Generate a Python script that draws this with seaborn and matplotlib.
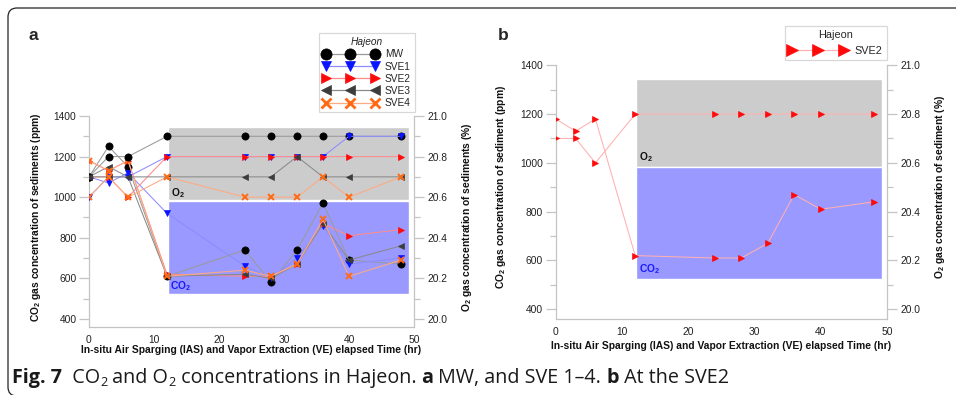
import matplotlib
matplotlib.use("Agg")
import matplotlib.pyplot as plt
import matplotlib.transforms as mtransforms
from matplotlib.patches import Rectangle, PathPatch
from matplotlib.path import Path
from matplotlib.lines import Line2D
from matplotlib.ticker import MultipleLocator
from matplotlib import font_manager
import seaborn as sns

# ---------------- data ----------------
time_hr = [0, 3, 6, 12, 24, 28, 32, 36, 40, 48]

mw_co2 = [1100, 1250, 1150, 610, 740, 580, 740, 970, 690, 670]
mw_o2 = [20.7, 20.8, 20.8, 20.9, 20.9, 20.9, 20.9, 20.9, 20.9, 20.9]

sve1_co2 = [1100, 1070, 1120, 920, 660, 600, 700, 860, 670, 700]
sve1_o2 = [20.6, 20.7, 20.7, 20.8, 20.8, 20.8, 20.8, 20.8, 20.9, 20.9]

sve2_co2 = [1180, 1130, 1180, 620, 610, 610, 670, 870, 810, 840]
sve2_o2 = [20.7, 20.7, 20.6, 20.8, 20.8, 20.8, 20.8, 20.8, 20.8, 20.8]

sve3_co2 = [1100, 1150, 1100, 610, 620, 600, 670, 870, 690, 760]
sve3_o2 = [20.7, 20.7, 20.7, 20.7, 20.7, 20.7, 20.8, 20.7, 20.7, 20.7]

sve4_co2 = [1180, 1130, 1180, 610, 640, 610, 670, 890, 610, 690]
sve4_o2 = [20.6, 20.7, 20.6, 20.7, 20.6, 20.6, 20.6, 20.7, 20.6, 20.7]

series_names = ["MW", "SVE1", "SVE2", "SVE3", "SVE4"]
x_ticks = [0, 10, 20, 30, 40, 50]
co2_ticks = [400, 600, 800, 1000, 1200, 1400]
o2_ticks = [20.0, 20.2, 20.4, 20.6, 20.8, 21.0]

# ---------------- style ----------------
sns.set_theme(style="white")
names = {f.name for f in font_manager.fontManager.ttflist}
base = "Liberation Sans" if "Liberation Sans" in names else "DejaVu Sans"
plt.rcParams["font.family"] = [base, "DejaVu Sans"]
plt.rcParams["mathtext.fontset"] = "custom"
plt.rcParams["mathtext.rm"] = base
plt.rcParams["mathtext.bf"] = base + ":bold"
plt.rcParams["mathtext.it"] = base + ":italic"
cap_family = "Open Sans" if "Open Sans" in names else base

W, H = 957, 395
fig = plt.figure(figsize=(W / 100, H / 100), dpi=100)
fig.patch.set_facecolor("white")

styles = {
    "MW":   dict(marker="o", mc="#000000", lc="#9a9a9a", ms=5.2, mew=0.5),
    "SVE1": dict(marker="v", mc="#0a14ff", lc="#8c8cff", ms=5.0, mew=0.5),
    "SVE2": dict(marker=">", mc="#ff0a0a", lc="#ff8c8c", ms=5.0, mew=0.5),
    "SVE3": dict(marker="<", mc="#3c3c3c", lc="#8a8a8a", ms=5.0, mew=0.5),
    "SVE4": dict(marker="x", mc="#ff6a14", lc="#ffaa80", ms=4.6, mew=1.4),
}
data_a = {
    "MW": (mw_co2, mw_o2), "SVE1": (sve1_co2, sve1_o2), "SVE2": (sve2_co2, sve2_o2),
    "SVE3": (sve3_co2, sve3_o2), "SVE4": (sve4_co2, sve4_o2),
}

SPINE = "#c4c4c4"


def px_axes(x0, x1, ytop, ybot):
    return fig.add_axes([x0 / W, 1 - ybot / H, (x1 - x0) / W, (ybot - ytop) / H])


def style_axes(ax, ax2, ylab_left, ylab_right, lab_x_left, lab_x_right, xlab_y):
    ax.set_xlim(0, 50)
    ax.set_ylim(360, 1400)
    ax2.set_ylim(19.96, 21.0)
    ax.set_xticks(x_ticks)
    ax.xaxis.set_minor_locator(MultipleLocator(5))
    ax.set_yticks(co2_ticks)
    ax.yaxis.set_minor_locator(MultipleLocator(100))
    ax2.set_yticks(o2_ticks)
    ax2.yaxis.set_minor_locator(MultipleLocator(0.1))
    ax2.set_yticklabels([f"{v:.1f}" for v in o2_ticks])
    for a in (ax, ax2):
        for s in a.spines.values():
            s.set_visible(False)
        a.set_facecolor("none")
    ax.spines["left"].set_visible(True)
    ax.spines["bottom"].set_visible(True)
    ax2.spines["right"].set_visible(True)
    for s in (ax.spines["left"], ax.spines["bottom"], ax2.spines["right"]):
        s.set_color(SPINE)
        s.set_linewidth(0.9)
    ax.tick_params(axis="y", which="major", direction="out", length=7, width=0.9,
                   color=SPINE, labelsize=7.4, labelcolor="#222222", pad=2)
    ax.tick_params(axis="y", which="minor", direction="out", length=4.5, width=0.9, color=SPINE)
    ax.tick_params(axis="x", which="both", direction="out", length=3.5, width=0.9,
                   color=SPINE, labelsize=7.4, labelcolor="#222222", pad=2)
    ax2.tick_params(axis="y", which="major", direction="out", length=7, width=0.9,
                    color=SPINE, labelsize=7.4, labelcolor="#222222", pad=3)
    ax2.tick_params(axis="y", which="minor", direction="out", length=4.5, width=0.9, color=SPINE)
    ax.set_ylabel(ylab_left, fontsize=7.4, fontweight="bold", color="#111111")
    ax2.set_ylabel(ylab_right, fontsize=7.4, fontweight="bold", color="#111111")
    ax.yaxis.set_label_coords(lab_x_left, 0.52)
    ax2.yaxis.set_label_coords(lab_x_right, 0.52)
    ax.set_xlabel("In-situ Air Sparging (IAS) and Vapor Extraction (VE) elapsed Time (hr)",
                  fontsize=7.4, fontweight="bold", color="#111111")
    ax.xaxis.set_label_coords(0.5, xlab_y)
    # shaded zones
    ax.add_patch(Rectangle((12.1, 985), 37.2, 360, facecolor="#cccccc", edgecolor="white",
                           lw=1.0, zorder=1))
    ax.add_patch(Rectangle((12.1, 522), 37.2, 460, facecolor="#9999ff", edgecolor="white",
                           lw=1.0, zorder=1))
    ax.text(12.6, 1022, r"O$_\mathbf{2}$", fontsize=7.4, fontweight="bold", color="#111111",
            va="center", ha="left", zorder=2)
    ax.text(12.5, 563, r"CO$_\mathbf{2}$", fontsize=7.4, fontweight="bold", color="#1a1aff",
            va="center", ha="left", zorder=2)


def draw_series(ax, y, st, lw=0.75):
    sns.lineplot(x=time_hr, y=y, ax=ax, color=st["lc"], lw=lw, marker=st["marker"],
                 markersize=st["ms"], markerfacecolor=st["mc"], markeredgecolor=st["mc"],
                 markeredgewidth=st["mew"], sort=False, estimator=None, legend=False, zorder=3)


# ---------------- panel a ----------------
axa = px_axes(89, 414, 116, 327)
axa2 = axa.twinx()
style_axes(axa, axa2, r"CO$_\mathbf{2}$ gas concentration of sediments (ppm)",
           r"O$_\mathbf{2}$ gas concentration of sediments (%)", -0.1415, 1.1415, -0.085)
for name in series_names:
    draw_series(axa, data_a[name][0], styles[name])
for name in series_names:
    draw_series(axa2, data_a[name][1], styles[name])
axa.set_zorder(1)
axa2.set_zorder(2)

handles = []
for name in series_names:
    st = styles[name]
    handles.append(Line2D([], [], color=st["lc"], lw=0.9, marker=st["marker"],
                          markersize=st["ms"] * 1.55, markerfacecolor=st["mc"],
                          markeredgecolor=st["mc"],
                          markeredgewidth=(2.0 if st["marker"] == "x" else 0.5)))
leg = fig.legend(handles, series_names, loc="upper right",
                 bbox_to_anchor=(415 / W, 1 - 33 / H), bbox_transform=fig.transFigure,
                 numpoints=3, handlelength=5.4, handletextpad=0.7, labelspacing=0.22,
                 fontsize=7.3, title="Hajeon", title_fontsize=7.3, frameon=True,
                 fancybox=False, borderpad=0.4, borderaxespad=0)
leg.get_title().set_fontstyle("italic")
leg.get_frame().set_edgecolor("#cfcfcf")
leg.get_frame().set_linewidth(0.9)

# ---------------- panel b ----------------
axb = px_axes(555.7, 887, 65.3, 319)
axb2 = axb.twinx()
style_axes(axb, axb2, r"CO$_\mathbf{2}$ gas concentration of sediment (ppm)",
           r"O$_\mathbf{2}$ gas concentration of sediment (%)", -0.144, 1.139, -0.087)
stb = dict(styles["SVE2"])
stb["lc"] = "#ffb0b0"
draw_series(axb, sve2_co2, stb)
draw_series(axb2, sve2_o2, stb)
axb.set_zorder(1)
axb2.set_zorder(2)
hb = Line2D([], [], color="#ffb0b0", lw=0.9, marker=">", markersize=8, markerfacecolor="#ff0a0a",
            markeredgecolor="#ff0a0a", markeredgewidth=0.5)
legb = fig.legend([hb], ["SVE2"], loc="upper right",
                  bbox_to_anchor=(887 / W, 1 - 26 / H), bbox_transform=fig.transFigure,
                  numpoints=3, handlelength=5.4, handletextpad=0.7, fontsize=7.8,
                  title="Hajeon", title_fontsize=7.8, frameon=True, fancybox=False,
                  borderpad=0.4, borderaxespad=0)
legb.get_frame().set_edgecolor("#cfcfcf")
legb.get_frame().set_linewidth(0.9)

# ---------------- panel letters ----------------
fig.text(33 / W, 1 - 35 / H, "a", fontsize=12.5, fontweight="bold", ha="center", va="center")
fig.text(503 / W, 1 - 35 / H, "b", fontsize=12.5, fontweight="bold", ha="center", va="center")

# ---------------- frame (open path: top + left + rounded corners) ----------------
ident = mtransforms.IdentityTransform()
r = 9
top = H - 8
bot = -1
verts = [(W - 1, top), (8 + r, top), (8, top), (8, top - r), (8, bot + r), (8, bot), (8 + r, bot)]
codes = [Path.MOVETO, Path.LINETO, Path.CURVE3, Path.CURVE3, Path.LINETO, Path.CURVE3, Path.CURVE3]
frame = PathPatch(Path(verts, codes), transform=ident, fill=False, edgecolor="#222222", lw=0.9)
fig.add_artist(frame)

# ---------------- caption ----------------
renderer = fig.canvas.get_renderer()
cap_size = 14.2
pieces = [
    ("Fig. 7", "bold", 1.0, 0), ("  CO", "normal", 1.0, 0), ("2", "normal", 0.65, -3),
    (" and O", "normal", 1.0, 0), ("2", "normal", 0.65, -3),
    (" concentrations in Hajeon. ", "normal", 1.0, 0), ("a", "bold", 1.0, 0),
    (" MW, and SVE 1\u20134. ", "normal", 1.0, 0), ("b", "bold", 1.0, 0),
    (" At the SVE2", "normal", 1.0, 0),
]
xc = 12
yc = H - 383
for txt, wt, sf, dy in pieces:
    t = fig.text(xc, yc + dy, txt, fontsize=cap_size * sf, fontweight=wt,
                 family=[cap_family, "DejaVu Sans"],
                 transform=ident, ha="left", va="baseline", color="#1a1a1a")
    bb = t.get_window_extent(renderer)
    xc = bb.x1

fig.savefig("out.png", dpi=100)
